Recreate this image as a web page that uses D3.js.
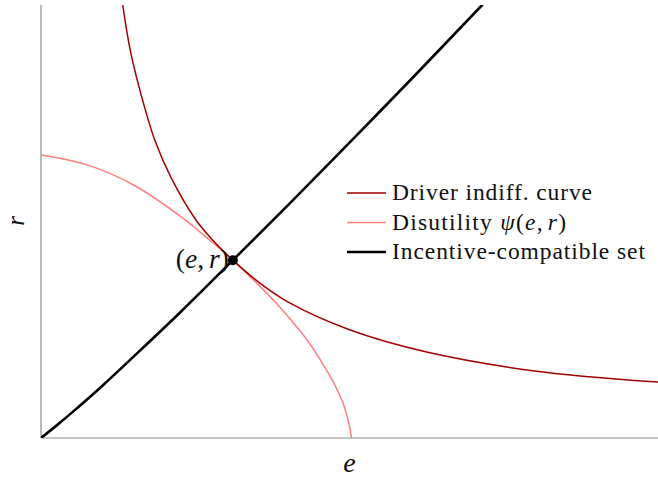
<!DOCTYPE html>
<html>
<head>
<meta charset="utf-8">
<script src="https://cdn.jsdelivr.net/npm/d3@7"></script>
<style>
  html, body { margin: 0; padding: 0; background: #fff; }
  svg { display: block; }
  text { font-family: "Liberation Serif", "DejaVu Serif", serif; fill: #111; }
</style>
</head>
<body>
<svg id="chart" width="658" height="480"></svg>
<script>
// Effort e (horizontal) and reward r (vertical), in model units
const icE = [0, 0.05, 0.10, 0.20, 0.30, 0.45, 0.622, 0.80, 1.00, 1.20, 1.43];
const icR = [0, 0.040, 0.082, 0.170, 0.263, 0.405, 0.575, 0.752, 0.955, 1.160, 1.40];

const driverE = [0.265, 0.29, 0.33, 0.37, 0.42, 0.50, 0.55, 0.622, 0.70, 0.80, 1.00, 1.25, 1.60, 2.00];
const driverR = [1.400, 1.250, 1.09, 0.960, 0.845, 0.708, 0.647, 0.575, 0.508, 0.440, 0.350, 0.278, 0.217, 0.181];

const disE = [0, 0.15, 0.30, 0.45, 0.55, 0.622, 0.70, 0.759, 0.81, 0.866, 0.91, 0.953, 0.98, 0.995, 1.007];
const disR = [0.915, 0.883, 0.818, 0.718, 0.637, 0.575, 0.500, 0.440, 0.382, 0.312, 0.245, 0.170, 0.110, 0.060, 0];

const optimum = { e: 0.622, r: 0.575 };

const legendLabels = ["Driver indiff. curve", "Disutility ", "Incentive-compatible set"];

const svg = d3.select("#chart");
const margin = { left: 41, right: 0, top: 5, bottom: 42 };
const W = 658, H = 480;

const x = d3.scaleLinear().domain([0, 2]).range([margin.left, W - margin.right]);
const y = d3.scaleLinear().domain([0, 1.4]).range([H - margin.bottom, margin.top]);

svg.append("clipPath").attr("id", "plot")
  .append("rect")
  .attr("x", x(0)).attr("y", y(1.4))
  .attr("width", x(2) - x(0)).attr("height", y(0) - y(1.4));

// axes (no ticks)
const axes = svg.append("g").attr("stroke", "#8c8c8c").attr("stroke-width", 1.2);
axes.append("line").attr("x1", x(0)).attr("x2", x(2)).attr("y1", y(0)).attr("y2", y(0));
axes.append("line").attr("x1", x(0)).attr("x2", x(0)).attr("y1", y(0)).attr("y2", y(1.4));

const zip = (a, b) => a.map((v, i) => [v, b[i]]);
const line = d3.line().x(d => x(d[0])).y(d => y(d[1])).curve(d3.curveCatmullRom.alpha(0.5));

const plot = svg.append("g").attr("clip-path", "url(#plot)");

const colDriver = "#a30000", colDis = "#ff7f7f", colIC = "#000";

plot.append("path").datum(zip(disE, disR))
  .attr("d", line).attr("fill", "none").attr("stroke", colDis).attr("stroke-width", 1.5);
plot.append("path").datum(zip(driverE, driverR))
  .attr("d", line).attr("fill", "none").attr("stroke", colDriver).attr("stroke-width", 1.5);
plot.append("path").datum(zip(icE, icR))
  .attr("d", line).attr("fill", "none").attr("stroke", colIC).attr("stroke-width", 2.6)
  .attr("stroke-linecap", "round");

svg.append("circle").attr("cx", x(optimum.e)).attr("cy", y(optimum.r)).attr("r", 5).attr("fill", "#000");

// spread a text element's letters so it spans a given width
function fitWidth(sel, width) {
  const node = sel.node();
  const n = node.textContent.length;
  const w = node.getComputedTextLength();
  if (n > 1) sel.attr("letter-spacing", Math.max(0, (width - w) / (n - 1)));
}

// point label (e, r)
const pl = svg.append("text").attr("x", x(optimum.e) - 4).attr("y", y(optimum.r) + 8)
  .attr("text-anchor", "end").attr("font-size", 27.5);
pl.append("tspan").text("(");
pl.append("tspan").attr("font-style", "italic").text("e");
pl.append("tspan").text(",");
pl.append("tspan").attr("font-style", "italic").attr("dx", 5).text("r");
pl.append("tspan").text(")");

// axis titles
svg.append("text").attr("x", x(1)).attr("y", 472).attr("text-anchor", "middle")
  .attr("font-size", 28).attr("font-style", "italic").text("e");
svg.append("text").attr("transform", "translate(24,221) rotate(-90)").attr("text-anchor", "middle")
  .attr("font-size", 25).attr("font-style", "italic").text("r");

// legend
const legend = svg.append("g").attr("transform", "translate(347,193)");
const entries = [
  { color: colDriver, w: 1.5, span: 200 },
  { color: colDis, w: 1.5, span: 170 },
  { color: colIC, w: 2.6, span: 253 }
];
entries.forEach((d, i) => {
  const g = legend.append("g").attr("transform", `translate(0,${i * 29.5})`);
  g.append("line").attr("x1", 0).attr("x2", 39).attr("stroke", d.color).attr("stroke-width", d.w);
  const t = g.append("text").attr("x", 45).attr("y", 7).attr("font-size", 23.5);
  t.append("tspan").text(legendLabels[i]);
  if (i === 1) {
    t.append("tspan").attr("font-style", "italic").text("ψ");
    t.append("tspan").text("(");
    t.append("tspan").attr("font-style", "italic").text("e");
    t.append("tspan").text(",");
    t.append("tspan").attr("font-style", "italic").attr("dx", 4).text("r");
    t.append("tspan").text(")");
  }
  fitWidth(t, d.span);
});
</script>
</body>
</html>
